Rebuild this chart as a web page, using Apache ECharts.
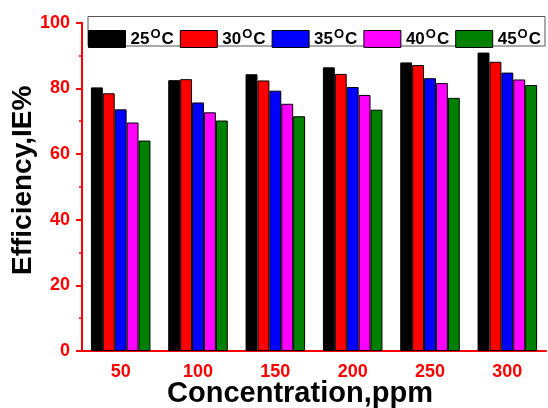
<!DOCTYPE html>
<html>
<head>
<meta charset="utf-8">
<script src="https://cdn.jsdelivr.net/npm/echarts@6/dist/echarts.min.js"></script>
<style>
  html, body { margin: 0; padding: 0; background: #fff; }
  #chart { width: 548px; height: 408px; }
</style>
</head>
<body>
<div id="chart"></div>
<script>
// concentrations (ppm) on x, efficiency per temperature
var categories = ["50", "100", "150", "200", "250", "300"];
var temps = ["25", "30", "35", "40", "45"];
var ie25 = [80.3, 82.5, 84.3, 86.4, 87.9, 90.9];
var ie30 = [78.5, 82.8, 82.4, 84.4, 87.1, 88.1];
var ie35 = [73.6, 75.7, 79.3, 80.4, 83.1, 84.8];
var ie40 = [69.6, 72.7, 75.3, 78.0, 81.6, 82.7];
var ie45 = [64.1, 70.2, 71.5, 73.5, 77.1, 81.0];
var colors = ["#000000", "#ff0000", "#0000ff", "#ff00ff", "#008000"];

var FONT = "Liberation Sans, Arial, sans-serif";
var allData = [ie25, ie30, ie35, ie40, ie45];

var series = [];
for (var i = 0; i < temps.length; i++) {
	series.push({
		name: temps[i],
		type: "bar",
		data: allData[i],
		barGap: "0%",
		barCategoryGap: "23%",
		itemStyle: { color: colors[i], borderColor: "#000", borderWidth: 1 }
	});
}

var myChart = echarts.init(document.getElementById("chart"));
var option = {
	animation: false,
	backgroundColor: "#fff",
	grid: { left: 82, right: 2, top: 22.7, bottom: 57, outerBoundsMode: "none", containLabel: false },
	graphic: [{
		type: "rect",
		shape: { x: 88, y: 16.5, width: 457, height: 29.5 },
		style: { fill: "#fff", stroke: "#555", lineWidth: 1 },
		z: 0
	}],
	legend: {
		left: 88, top: 28,
		padding: 0,
		icon: "rect",
		itemWidth: 37, itemHeight: 17, itemGap: 6,
		itemStyle: { borderColor: "#000", borderWidth: 1 },
		data: temps,
		formatter: function(name){ return "{a|" + name + "}{s|O}{a|C}"; },
		textStyle: {
			fontFamily: FONT, fontWeight: "bold", color: "#000",
			rich: {
				a: { fontSize: 17, fontWeight: "bold", fontFamily: FONT, color: "#000", lineHeight: 17 },
				s: { fontSize: 13, fontWeight: "bold", fontFamily: FONT, color: "#000", lineHeight: 17, padding: [0, 1, 9, 1] }
			}
		}
	},
	xAxis: [{
		type: "category",
		data: categories,
		position: "bottom",
		axisLine: { lineStyle: { color: "#ff0000", width: 2 } },
		axisTick: { alignWithLabel: true, length: 6, lineStyle: { color: "#ff0000", width: 2 } },
		axisLabel: { margin: 12, color: "#ff0000", fontSize: 18, fontWeight: "bold", fontFamily: FONT },
		name: "Concentration,ppm",
		nameLocation: "middle",
		nameGap: 28,
		nameMoveOverlap: false,
		nameTextStyle: { fontSize: 29, fontWeight: "bold", fontFamily: FONT, color: "#000", padding: [0, 28, 0, 0] }
	}, {
		type: "category",
		data: categories,
		position: "bottom",
		axisLine: { show: false },
		axisTick: { length: 3, lineStyle: { color: "#ff0000", width: 1.5 } },
		axisLabel: { show: false }
	}],
	yAxis: {
		type: "value",
		min: 0, max: 100, interval: 20,
		axisLine: { show: true, lineStyle: { color: "#ff0000", width: 2 } },
		axisTick: { show: true, length: 6, lineStyle: { color: "#ff0000", width: 2 } },
		minorTick: { show: true, splitNumber: 2, length: 3, lineStyle: { color: "#ff0000", width: 1.5 } },
		splitLine: { show: false },
		axisLabel: { margin: 12, color: "#ff0000", fontSize: 18, fontWeight: "bold", fontFamily: FONT },
		name: "Efficiency,IE%",
		nameLocation: "middle",
		nameGap: 45,
		nameMoveOverlap: false,
		nameTextStyle: { fontSize: 28, fontWeight: "bold", fontFamily: FONT, color: "#000", padding: [0, 0, 0, 13] }
	},
	series: series
};
myChart.setOption(option);
</script>
</body>
</html>
